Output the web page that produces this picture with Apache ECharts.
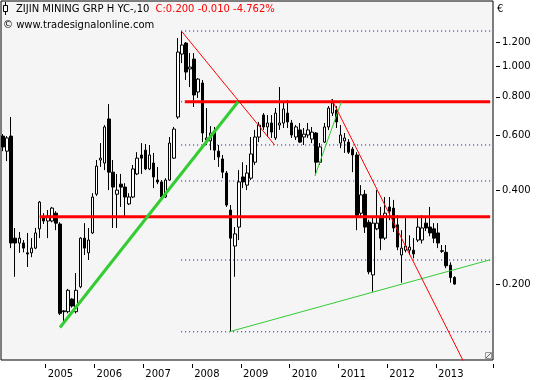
<!DOCTYPE html>
<html><head><meta charset="utf-8">
<script src="https://cdn.jsdelivr.net/npm/echarts@6/dist/echarts.min.js"></script>
<style>html,body{margin:0;padding:0;background:#fff}#c{width:540px;height:380px}</style>
</head><body><div id="c"></div>
<script>
// Monthly candles, Feb 2004 .. May 2013 (axis runs to Feb 2014)
const startYear = 2004, startMonth = 2, monthCount = 121;
const yearLabels = ['2005', '2006', '2007', '2008', '2009', '2010', '2011', '2012', '2013'];
const opens = [0.598,0.535,0.598,0.281,0.271,0.271,0.252,0.252,0.261,0.301,
0.328,0.319,0.319,0.338,0.312,0.164,0.163,0.179,0.163,0.196,
0.281,0.252,0.292,0.389,0.501,0.490,0.679,0.458,0.389,0.419,
0.410,0.362,0.381,0.452,0.520,0.539,0.469,0.490,0.432,0.426,
0.381,0.432,0.508,0.689,1.098,1.191,0.983,1.058,0.829,0.886,
0.581,0.577,0.621,0.535,0.505,0.455,0.346,0.265,0.305,0.442,
0.416,0.438,0.493,0.594,0.699,0.640,0.659,0.590,0.649,0.659,
0.709,0.659,0.594,0.626,0.594,0.603,0.585,0.612,0.493,0.572,
0.640,0.709,0.725,0.568,0.577,0.572,0.543,0.520,0.338,0.389,
0.316,0.214,0.301,0.328,0.281,0.354,0.351,0.310,0.248,0.257,
0.257,0.257,0.277,0.277,0.314,0.305,0.301,0.292,0.256,0.253,
0.230,0.210];
const closes = [0.552,0.590,0.271,0.271,0.281,0.261,0.250,0.261,0.292,0.367,
0.319,0.331,0.351,0.314,0.161,0.163,0.191,0.170,0.191,0.281,
0.261,0.277,0.381,0.479,0.508,0.640,0.458,0.410,0.401,0.410,
0.381,0.381,0.469,0.508,0.508,0.469,0.520,0.442,0.426,0.381,
0.432,0.568,0.630,1.114,1.174,0.961,0.997,0.811,0.912,0.612,
0.590,0.612,0.539,0.512,0.458,0.359,0.281,0.290,0.426,0.426,
0.455,0.524,0.594,0.649,0.640,0.659,0.616,0.709,0.659,0.731,
0.664,0.603,0.640,0.572,0.607,0.626,0.616,0.493,0.552,0.640,
0.736,0.764,0.664,0.603,0.590,0.531,0.520,0.333,0.387,0.305,
0.219,0.314,0.314,0.281,0.338,0.343,0.303,0.263,0.261,0.265,
0.263,0.250,0.305,0.303,0.303,0.292,0.281,0.271,0.255,0.229,
0.210,0.200];
const lows = [0.535,0.497,0.261,0.211,0.252,0.253,0.227,0.244,0.259,0.281,
0.312,0.281,0.316,0.298,0.159,0.151,0.161,0.168,0.161,0.194,
0.248,0.239,0.290,0.384,0.476,0.465,0.401,0.303,0.303,0.354,
0.326,0.359,0.378,0.448,0.452,0.465,0.465,0.407,0.419,0.373,
0.378,0.429,0.505,0.679,1.027,0.906,0.860,0.742,0.793,0.572,
0.560,0.539,0.501,0.476,0.438,0.354,0.141,0.211,0.277,0.407,
0.401,0.432,0.483,0.572,0.626,0.594,0.590,0.581,0.626,0.635,
0.635,0.590,0.581,0.568,0.560,0.590,0.568,0.448,0.483,0.568,
0.626,0.694,0.635,0.547,0.528,0.524,0.458,0.298,0.328,0.292,
0.215,0.189,0.298,0.257,0.277,0.321,0.294,0.257,0.202,0.253,
0.248,0.242,0.273,0.270,0.296,0.285,0.271,0.261,0.252,0.225,
0.202,0.199];
const highs = [0.607,0.598,0.689,0.303,0.294,0.277,0.292,0.281,0.303,0.370,
0.338,0.346,0.354,0.343,0.316,0.165,0.193,0.180,0.217,0.283,
0.314,0.303,0.392,0.501,0.568,0.649,0.758,0.501,0.452,0.452,
0.422,0.392,0.483,0.531,0.568,0.564,0.560,0.528,0.476,0.432,
0.438,0.594,0.640,1.236,1.300,1.200,1.106,1.106,0.919,0.906,
0.736,0.644,0.640,0.560,0.520,0.462,0.359,0.305,0.465,0.493,
0.483,0.594,0.626,0.664,0.709,0.699,0.699,0.736,0.860,0.770,
0.781,0.674,0.649,0.659,0.635,0.659,0.640,0.616,0.568,0.659,
0.747,0.787,0.747,0.649,0.612,0.585,0.552,0.531,0.416,0.401,
0.322,0.326,0.401,0.354,0.381,0.381,0.373,0.333,0.298,0.326,
0.287,0.281,0.326,0.333,0.326,0.354,0.314,0.314,0.267,0.267,
0.235,0.212];

const yTicks = [0.2, 0.4, 0.6, 0.8, 1.0, 1.2];
const yMin = 0.114, yMax = 1.626;
// blue dotted levels (price), drawn from month-index 43.8 to 119.8
const levels = [1.302, 0.771, 0.560, 0.429, 0.239, 0.1405];
const levelSpan = [43.8, 119.8];
// thick red horizontal lines: [price, fromIndex, toIndex]
const resistance = [[0.771, 44.7, 119.8], [0.329, 9.0, 119.8]];
// trend lines: [[monthIndex, price], [monthIndex, price]]
const greenThick = [[14.0, 0.145], [57.8, 0.771]];
const greenThin = [[[76.7, 0.445], [83.2, 0.771]], [[55.6, 0.1405], [119.6, 0.239]]];
const redThin = [[[43.9, 1.300], [66.8, 0.560]], [[80.8, 0.787], [115.6, 0.098]]];

const L = Math.log10;
const months = [];
for (let k = 0; k < monthCount; k++) {
  const t = startMonth - 1 + k;
  const y = startYear + Math.floor(t / 12), m = t % 12 + 1;
  months.push(y + '-' + (m < 10 ? '0' + m : m));
}
const isYearStart = (idx, val) => val.slice(5) === '01' && yearLabels.indexOf(val.slice(0, 4)) >= 0;
const candles = opens.map((o, i) => [L(o), L(closes[i]), L(lows[i]), L(highs[i])]);
const FONT = 'DejaVu Sans';

function seg(pts, color, width, type) {
  return {
    type: 'line', xAxisIndex: 1, yAxisIndex: 0, silent: true, symbol: 'none',
    animation: false, clip: true,
    data: pts.map(p => [p[0], L(p[1])]),
    lineStyle: { color: color, width: width, type: type || 'solid', cap: 'butt' }
  };
}
const series = [{
  type: 'candlestick', xAxisIndex: 0, yAxisIndex: 0, data: candles, barWidth: 3,
  silent: true, animation: false,
  itemStyle: { color: '#ffffff', color0: '#000000', borderColor: '#000000',
               borderColor0: '#000000', borderColorDoji: '#000000', borderWidth: 1 }
}];
levels.forEach(v => series.push(seg([[levelSpan[0], v], [levelSpan[1], v]], '#0000ff', 1, [1, 3])));
resistance.forEach(r => series.push(seg([[r[1], r[0]], [r[2], r[0]]], '#ff0000', 3)));
series.push(seg(greenThick, '#33cc33', 3));
greenThin.forEach(s => series.push(seg(s, '#33cc33', 1)));
redThin.forEach(s => series.push(seg(s, '#ff0000', 1)));

const chart = echarts.init(document.getElementById('c'), null, { renderer: 'canvas' });
chart.setOption({
  animation: false,
  backgroundColor: '#ffffff',
  grid: { left: 1, top: 1, width: 492, height: 359, show: true,
          backgroundColor: '#f5f5f5', borderColor: '#000000', borderWidth: 1 },
  xAxis: [{
    type: 'category', data: months, boundaryGap: true, offset: 4, position: 'bottom',
    axisLine: { show: false, onZero: false },
    axisTick: { show: true, length: 4, interval: isYearStart, lineStyle: { color: '#000' } },
    axisLabel: { interval: isYearStart, formatter: v => v.slice(0, 4), align: 'left', margin: 5,
                 fontSize: 10, fontFamily: FONT, color: '#000' },
    splitLine: { show: false }
  }, {
    type: 'value', min: -0.5, max: monthCount - 0.5, show: false,
    axisLine: { show: false, onZero: false }
  }],
  yAxis: {
    type: 'value', position: 'right', min: L(yMin), max: L(yMax), offset: 3,
    axisLine: { show: false, onZero: false },
    splitLine: { show: false },
    axisTick: { show: true, length: 4, customValues: yTicks.map(L), lineStyle: { color: '#000' } },
    axisLabel: { customValues: yTicks.map(L), formatter: v => Math.pow(10, v).toFixed(3),
                 margin: 6, fontSize: 10, fontFamily: FONT, color: '#000' }
  },
  series: series,
  graphic: [
    { type: 'line', shape: { x1: 5.5, y1: 2, x2: 5.5, y2: 15 }, style: { stroke: '#000', lineWidth: 1 } },
    { type: 'rect', shape: { x: 3.5, y: 5.5, width: 4, height: 6 }, style: { fill: '#fff', stroke: '#000', lineWidth: 1 } },
    { type: 'text', x: 16, y: 4.5, style: { text: 'ZIJIN MINING GRP H YC-,10', font: '10px "DejaVu Sans"', fill: '#000', verticalAlign: 'top' } },
    { type: 'text', x: 155.5, y: 4.5, style: { text: 'C:0.200 -0.010 -4.762%', font: '10px "DejaVu Sans"', fill: '#ff0000', verticalAlign: 'top' } },
    { type: 'text', x: 3, y: 20.5, style: { text: '\u00a9 www.tradesignalonline.com', font: '10px "DejaVu Sans"', fill: '#000', verticalAlign: 'top' } },
    { type: 'text', x: 497, y: 4, style: { text: '\u20ac', font: '10px "DejaVu Sans"', fill: '#000', verticalAlign: 'top' } },
    { type: 'rect', shape: { x: 485.5, y: 352.5, width: 6, height: 6 }, style: { fill: '#f0f0f0', stroke: '#999', lineWidth: 1 } },
    { type: 'line', shape: { x1: 486, y1: 358, x2: 491, y2: 353 }, style: { stroke: '#666', lineWidth: 1 } }
  ]
});
</script></body></html>
